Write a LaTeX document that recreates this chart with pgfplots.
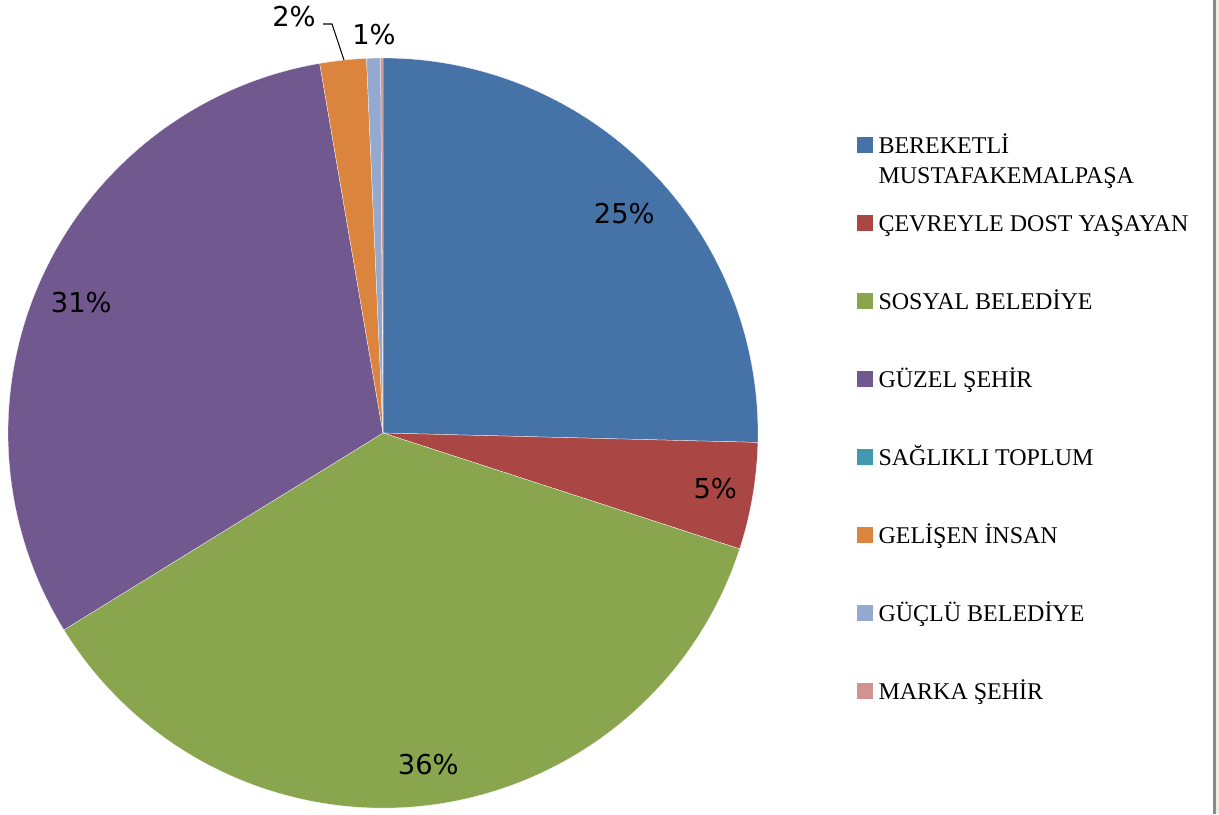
\documentclass[border=0pt]{standalone}
\usepackage{fontspec}
\setmainfont{Liberation Serif}
\newfontfamily\labelfont{DejaVu Sans}
\usepackage{pgfplots}
\usepackage{pgfplotstable}
\pgfplotsset{compat=1.18}
\definecolor{c1}{HTML}{4572A7}
\definecolor{c2}{HTML}{AA4643}
\definecolor{c3}{HTML}{89A54E}
\definecolor{c4}{HTML}{4198AF}
\definecolor{c5}{HTML}{71588F}
\definecolor{c6}{HTML}{DB843D}
\definecolor{c7}{HTML}{93A9CF}
\definecolor{c8}{HTML}{D19392}
\definecolor{edgegray}{HTML}{8A8A8A}
\definecolor{edgebeige}{HTML}{EFECE0}

% share of each category (percent), rounded label, label inside the slice?, label nudge (px)
\pgfplotstableread{
value pct inside dx dy
25.4 25 1 5 11
4.6 5 1 7 0
36.2 36 1 6 4
0.0 0 0 0 0
31.1 31 1 -1 5
2.0 2 0 0 0
0.6 1 0 0 0
0.1 0 0 0 0
}\pietable

\begin{document}
\begin{tikzpicture}
\begin{axis}[
  hide axis, scale only axis,
  width=914.25pt, height=610.5pt,
  xmin=0, xmax=1219, ymin=0, ymax=814,
  clip=false,
  legend image code/.code={\fill[#1] (0pt,0.75pt) rectangle (11.25pt,12pt);},
  legend style={at={(0.70304,0.83661)}, anchor=north west, draw=none, fill=none,
    inner sep=0pt, outer sep=0pt, row sep=37.5pt, column sep=4.5pt,
    font=\fontsize{18}{22.5}\selectfont,
    nodes={inner sep=0pt, text height=15pt, text depth=6pt},
    cells={anchor=base west}},
]
\path (axis cs:0,0) rectangle (axis cs:1219,814);
\def\cum{90}
\pgfplotsforeachungrouped \sidx in {0,...,7}{%
  \pgfplotstablegetelem{\sidx}{value}\of\pietable \let\sliceval\pgfplotsretval
  \pgfplotstablegetelem{\sidx}{pct}\of\pietable \let\slicepct\pgfplotsretval
  \pgfplotstablegetelem{\sidx}{inside}\of\pietable \let\sliceins\pgfplotsretval
  \pgfplotstablegetelem{\sidx}{dx}\of\pietable \let\slicedx\pgfplotsretval
  \pgfplotstablegetelem{\sidx}{dy}\of\pietable \let\slicedy\pgfplotsretval
  \pgfmathsetmacro\endang{\cum-3.6*\sliceval}
  \pgfmathsetmacro\midang{(\cum+\endang)/2}
  \pgfmathtruncatemacro\cidx{\sidx+1}
  \ifdim\sliceval pt>0pt
    \edef\temp{\noexpand\fill[c\cidx, draw=white, line width=0.2pt] (axis cs:383,381) -- (axis cs:{383+375*cos(\cum)},{381+375*sin(\cum)}) arc[start angle=\cum, end angle=\endang, radius=281.25pt] -- cycle;}%
    \temp
  \fi
  \ifnum\sliceins=1
    \edef\temp{\noexpand\node[font=\noexpand\labelfont\noexpand\fontsize{20.5}{24}\noexpand\selectfont, inner sep=0pt] at (axis cs:{383+330*cos(\midang)+\slicedx},{381+330*sin(\midang)-\slicedy}) {\slicepct\noexpand\%};}%
    \temp
  \fi
  \global\let\cum\endang
}
\draw[black, line width=0.8pt] (axis cs:323,790) -- (axis cs:332,790) -- (axis cs:344,754);
\node[font=\labelfont\fontsize{20.5}{24}\selectfont, inner sep=0pt] at (axis cs:294,797.5) {2\%};
\node[font=\labelfont\fontsize{20.5}{24}\selectfont, inner sep=0pt] at (axis cs:374,779) {1\%};
\fill[edgegray] (axis cs:1213.3,0) rectangle (axis cs:1215.7,814);
\fill[edgebeige] (axis cs:1215.7,0) rectangle (axis cs:1219,814);

\addlegendimage{c1}
\addlegendentry{\vtop{\baselineskip=22.5pt\hbox{BEREKETLİ}\hbox{MUSTAFAKEMALPAŞA}}}
\addlegendimage{c2}
\addlegendentry{ÇEVREYLE DOST YAŞAYAN}
\addlegendimage{c3}
\addlegendentry{SOSYAL BELEDİYE}
\addlegendimage{c5}
\addlegendentry{GÜZEL ŞEHİR}
\addlegendimage{c4}
\addlegendentry{SAĞLIKLI TOPLUM}
\addlegendimage{c6}
\addlegendentry{GELİŞEN İNSAN}
\addlegendimage{c7}
\addlegendentry{GÜÇLÜ BELEDİYE}
\addlegendimage{c8}
\addlegendentry{MARKA ŞEHİR}
\end{axis}
\pgfresetboundingbox
\useasboundingbox (current axis.south west) rectangle (current axis.north east);
\end{tikzpicture}
\end{document}
